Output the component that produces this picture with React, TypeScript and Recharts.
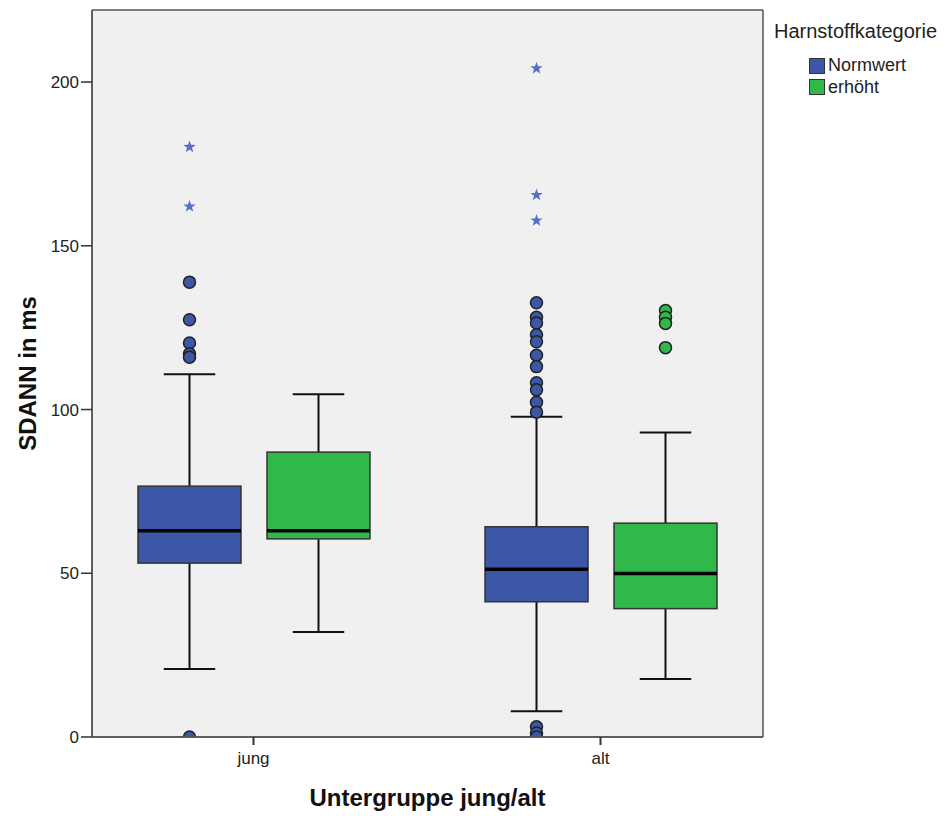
import { ComposedChart, Bar, XAxis, YAxis, CartesianGrid } from 'recharts';

const groups = ['jung', 'alt'];

// [lower whisker, Q1, median, Q3, upper whisker]
const normwertBox = [
  [20.8, 53.1, 63.0, 76.6, 110.8],
  [7.9, 41.3, 51.2, 64.2, 97.8],
];
const erhoehtBox = [
  [32.1, 60.5, 63.0, 87.0, 104.7],
  [17.7, 39.2, 49.9, 65.3, 93.0],
];

// circles (outliers) and stars (extreme values)
const normwertOutliers = [
  [138.9, 127.4, 120.3, 117.0, 116.0, 0],
  [132.6, 128.2, 126.4, 122.8, 120.7, 116.6, 113.1, 108.2, 106.0, 102.2, 99.2, 3.1, 1.2, 0],
];
const normwertExtremes = [
  [180.2, 162.0],
  [204.2, 165.5, 157.7],
];
const erhoehtOutliers = [[], [130.2, 128.2, 126.3, 118.9]];
const erhoehtExtremes = [[], []];

const yTicks = [0, 50, 100, 150, 200];

const BLUE = '#3d57a7';
const GREEN = '#30b84a';
const STAR = '#5570c9';

const rows = groups.map((g, i) => ({
  group: g,
  normwert: [normwertBox[i][1], normwertBox[i][3]],
  erhoeht: [erhoehtBox[i][1], erhoehtBox[i][3]],
  normwertStats: normwertBox[i],
  erhoehtStats: erhoehtBox[i],
  normwertOut: normwertOutliers[i],
  erhoehtOut: erhoehtOutliers[i],
  normwertExt: normwertExtremes[i],
  erhoehtExt: erhoehtExtremes[i],
}));

const starPoints = (cx: number, cy: number, ro: number, ri: number) => {
  const pts: string[] = [];
  for (let k = 0; k < 10; k++) {
    const r = k % 2 === 0 ? ro : ri;
    const a = -Math.PI / 2 + (k * Math.PI) / 5;
    pts.push(`${cx + r * Math.cos(a)},${cy + r * Math.sin(a)}`);
  }
  return pts.join(' ');
};

const makeBoxShape = (key: string, fill: string) => (props: any) => {
  const { x, y, width, height, payload, index } = props;
  const [lo, q1, med, q3, hi] = payload[key + 'Stats'];
  const outs: number[] = payload[key + 'Out'];
  const exts: number[] = payload[key + 'Ext'];
  const unit = height / (q3 - q1);
  const toY = (v: number) => y + height - (v - q1) * unit;
  const cx = x + width / 2;
  const cap = width / 4;
  const base = toY(0);
  const clipId = `clip-${key}-${index}`;
  return (
    <g>
      <defs>
        <clipPath id={clipId}>
          <rect x={x - 20} y={toY(260)} width={width + 40} height={base - toY(260)} />
        </clipPath>
      </defs>
      <line x1={cx} x2={cx} y1={toY(q3)} y2={toY(hi)} stroke="#111" strokeWidth={2} />
      <line x1={cx - cap} x2={cx + cap} y1={toY(hi)} y2={toY(hi)} stroke="#111" strokeWidth={2} />
      <line x1={cx} x2={cx} y1={toY(q1)} y2={toY(lo)} stroke="#111" strokeWidth={2} />
      <line x1={cx - cap} x2={cx + cap} y1={toY(lo)} y2={toY(lo)} stroke="#111" strokeWidth={2} />
      <rect x={x} y={y} width={width} height={height} fill={fill} stroke="#333" strokeWidth={1.5} />
      <line x1={x} x2={x + width} y1={toY(med)} y2={toY(med)} stroke="#000" strokeWidth={3.5} />
      <g clipPath={`url(#${clipId})`}>
        {outs.map((v, j) => (
          <circle key={j} cx={cx} cy={toY(v)} r={6} fill={fill} stroke="#222" strokeWidth={1.5} />
        ))}
      </g>
      {exts.map((v, j) => (
        <polygon key={j} points={starPoints(cx, toY(v), 6.5, 2.6)} fill={STAR} />
      ))}
    </g>
  );
};

const legendItems = [
  { name: 'Normwert', color: BLUE },
  { name: 'erhöht', color: GREEN },
];

export default function App() {
  return (
    <div
      style={{
        position: 'absolute',
        left: 0,
        top: 0,
        width: 949,
        height: 816,
        background: '#fff',
        fontFamily: '"Liberation Sans", Arial, sans-serif',
      }}
    >
      <ComposedChart
        width={949}
        height={816}
        data={rows}
        margin={{ top: 10, right: 186, bottom: 0, left: 0 }}
        barGap={26}
      >
        <CartesianGrid
          fill="#f0f0f0"
          stroke="#555"
          strokeWidth={1.5}
          horizontalCoordinatesGenerator={({ offset }: any) => [offset.top, offset.top + offset.height]}
          verticalCoordinatesGenerator={({ offset }: any) => [offset.left, offset.left + offset.width]}
        />
        <XAxis
          dataKey="group"
          type="category"
          height={79}
          padding={{ left: -12, right: -11 }}
          tickSize={8}
          tickMargin={7}
          axisLine={{ stroke: '#555', strokeWidth: 1.5 }}
          tickLine={{ stroke: '#333', strokeWidth: 2 }}
          tick={{ fill: '#222', fontSize: 17, fontFamily: '"Liberation Sans", Arial, sans-serif' }}
          label={{
            value: 'Untergruppe jung/alt',
            position: 'insideBottom',
            offset: 10,
            fill: '#111',
            fontSize: 24,
            fontWeight: 'bold',
            fontFamily: '"Liberation Sans", Arial, sans-serif',
          }}
        />
        <YAxis
          type="number"
          domain={[0, 222]}
          ticks={yTicks}
          width={92}
          tickSize={11}
          tickMargin={2}
          axisLine={{ stroke: '#555', strokeWidth: 1.5 }}
          tickLine={{ stroke: '#333', strokeWidth: 1.5 }}
          tick={{ fill: '#222', fontSize: 17, fontFamily: '"Liberation Sans", Arial, sans-serif' }}
          label={{
            value: 'SDANN in ms',
            angle: -90,
            position: 'insideLeft',
            offset: 27,
            fill: '#111',
            fontSize: 24,
            fontWeight: 'bold',
            fontFamily: '"Liberation Sans", Arial, sans-serif',
            style: { textAnchor: 'middle' },
          }}
        />
        <Bar
          dataKey="normwert"
          barSize={103}
          isAnimationActive={false}
          shape={makeBoxShape('normwert', BLUE)}
        />
        <Bar
          dataKey="erhoeht"
          barSize={103}
          isAnimationActive={false}
          shape={makeBoxShape('erhoeht', GREEN)}
        />
      </ComposedChart>

      {/* legend */}
      <div style={{ position: 'absolute', left: 774, top: 19, color: '#222' }}>
        <div style={{ fontSize: 20, lineHeight: '24px', whiteSpace: 'nowrap' }}>Harnstoffkategorie</div>
        <div style={{ marginTop: 12, marginLeft: 35 }}>
          {legendItems.map((it) => (
            <div key={it.name} style={{ display: 'flex', alignItems: 'center', height: 21.5, fontSize: 18 }}>
              <span
                style={{
                  display: 'inline-block',
                  width: 14,
                  height: 14,
                  background: it.color,
                  border: '1.5px solid #333',
                  marginRight: 3,
                }}
              />
              <span>{it.name}</span>
            </div>
          ))}
        </div>
      </div>
    </div>
  );
}
